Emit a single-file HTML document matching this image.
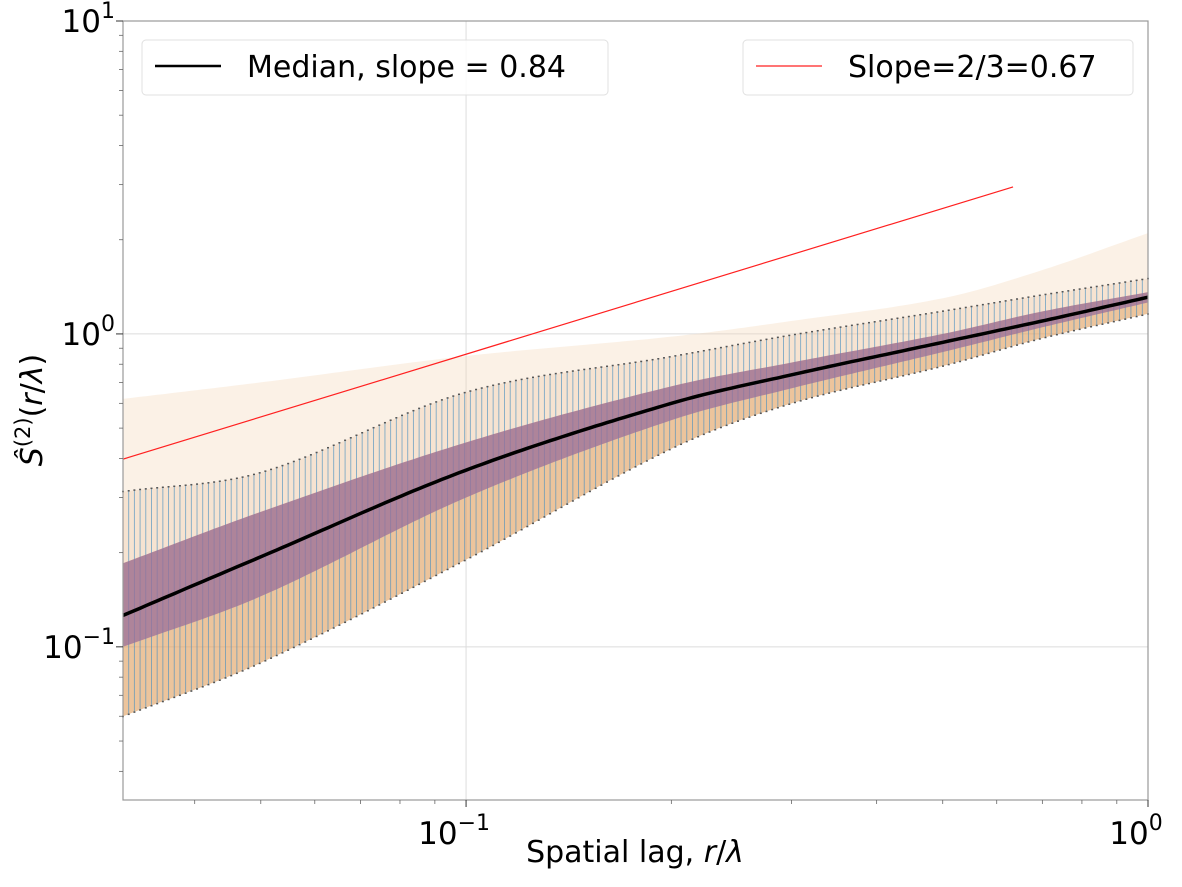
<!DOCTYPE html>
<html><head><meta charset="utf-8"><style>
html,body{margin:0;padding:0;background:#fff;}
body{position:relative;width:1182px;height:887px;overflow:hidden}
svg{display:block;font-family:"DejaVu Sans","Liberation Sans",sans-serif;}
</style></head><body>
<svg id="chart" width="1182" height="887" viewBox="0 0 1182 887">
<g id="plot"></g>
<g id="axes"></g>
</svg>
<script>
// ---- data ----
const sampleX = [0.0314, 0.05, 0.1, 0.2, 0.3, 0.5, 0.7, 1.0];
const medianY = [0.126, 0.194, 0.367, 0.60, 0.74, 0.94, 1.10, 1.31];
const upperY  = [0.313, 0.36, 0.65, 0.845, 0.99, 1.18, 1.33, 1.50];
const lowerY  = [0.060, 0.089, 0.19, 0.43, 0.60, 0.79, 0.97, 1.16];
const q3Y     = [0.185, 0.27, 0.45, 0.68, 0.81, 1.00, 1.18, 1.36];
const q1Y     = [0.100, 0.145, 0.30, 0.53, 0.67, 0.875, 1.05, 1.26];
const outerTopY = [0.62, 0.70, 0.85, 0.98, 1.1, 1.3, 1.6, 2.1];
const refLineX = [0.0314, 0.634];
const refLineY = [0.398, 2.95];
const xTicks = [0.1, 1];
const xTickLabels = ["10", "10"];
const xTickExp = ["\u22121", "0"];
const yTicks = [0.1, 1, 10];
const yTickLabels = ["10", "10", "10"];
const yTickExp = ["\u22121", "0", "1"];

// ---- scales ----
const L=123,R=1148,T=21,B=800;
const xMin=Math.log10(0.0314), xMax=0;
const yMin=Math.log10(0.0324), yMax=1;
const sx=v=>L+(Math.log10(v)-xMin)/(xMax-xMin)*(R-L);
const sy=v=>B-(Math.log10(v)-yMin)/(yMax-yMin)*(B-T);
const NS="http://www.w3.org/2000/svg";
const plot=document.getElementById('plot'), axes=document.getElementById('axes');
function mk(tag,attrs,parent){const e=document.createElementNS(NS,tag);for(const k in attrs)e.setAttribute(k,attrs[k]);parent.appendChild(e);return e;}
// smooth (cubic Hermite) interpolation in log-log space
function interp(arr,x){
 const xs=sampleX.map(Math.log10), ys=arr.map(Math.log10), n=xs.length, lx=Math.log10(x);
 const m=xs.map((_,i)=>{if(i==0)return (ys[1]-ys[0])/(xs[1]-xs[0]);if(i==n-1)return (ys[n-1]-ys[n-2])/(xs[n-1]-xs[n-2]);return (ys[i+1]-ys[i-1])/(xs[i+1]-xs[i-1]);});
 let i=0;while(i<n-2&&lx>xs[i+1])i++;
 const h=xs[i+1]-xs[i], t=Math.max(0,Math.min(1,(lx-xs[i])/h));
 const t2=t*t,t3=t2*t;
 const v=(2*t3-3*t2+1)*ys[i]+(t3-2*t2+t)*h*m[i]+(-2*t3+3*t2)*ys[i+1]+(t3-t2)*h*m[i+1];
 return Math.pow(10,v);
}
const dense=[];for(let i=0;i<=180;i++){dense.push(Math.pow(10,xMin+(xMax-xMin)*i/180));}
function line(arr){return dense.map((x,i)=>(i?'L':'M')+sx(x).toFixed(1)+','+sy(interp(arr,x)).toFixed(1)).join('');}
function band(a,b){return line(a)+dense.slice().reverse().map(x=>'L'+sx(x).toFixed(1)+','+sy(interp(b,x)).toFixed(1)).join('')+'Z';}

// grid
xTicks.forEach(t=>{const g=mk('line',{x1:sx(t),x2:sx(t),y1:T,y2:B,stroke:'#dcdcdc','stroke-width':1},plot);});
yTicks.slice(0,2).forEach(t=>{const g=mk('line',{x1:L,x2:R,y1:sy(t),y2:sy(t),stroke:'#dcdcdc','stroke-width':1},plot);});

// faint outer orange band
let e=mk('path',{d:band(outerTopY,upperY),fill:'#f3d6b8','fill-opacity':0.35},plot);

// orange band between envelopes
e=mk('path',{d:band(upperY,lowerY),fill:'#ecc29a','fill-opacity':0.45},plot);

e=mk('path',{d:band(q3Y,lowerY),fill:'#d98a3a','fill-opacity':0.35},plot);

// error bars
const eg=mk('g',{},plot);
dense.forEach(x=>{const X=sx(x);
 mk('line',{x1:X,x2:X,y1:sy(interp(upperY,x)),y2:sy(interp(lowerY,x)),stroke:'#4a90c0','stroke-width':0.9,'stroke-opacity':0.7},eg);
 mk('rect',{x:X-1,y:sy(interp(upperY,x))-1,width:2,height:1.5,fill:'#555'},eg);
 mk('rect',{x:X-1,y:sy(interp(lowerY,x))-0.5,width:2,height:1.5,fill:'#555'},eg);
});
// interquartile band
e=mk('path',{d:band(q3Y,q1Y),fill:'#9a6f9a','fill-opacity':0.75},plot);

// median
e=mk('path',{d:line(medianY),fill:'none',stroke:'#000','stroke-width':3.5},plot);

// reference slope line
e=mk('line',{x1:sx(refLineX[0]),y1:sy(refLineY[0]),x2:sx(refLineX[1]),y2:sy(refLineY[1]),stroke:'#ff2020','stroke-width':1.2},plot);


// frame
e=mk('rect',{x:L,y:T,width:R-L,height:B-T,fill:'none',stroke:'#999','stroke-width':1.2},axes);

// minor ticks
for(let d=-2;d<=0;d++)for(let m=2;m<=9;m++){const v=m*Math.pow(10,d);if(v>=0.0314&&v<=1){mk('line',{x1:sx(v),x2:sx(v),y1:B,y2:B+4,stroke:'#666','stroke-width':0.8},axes);}}
for(let d=-2;d<=0;d++)for(let m=2;m<=9;m++){const v=m*Math.pow(10,d);if(v>=0.0324&&v<=10){mk('line',{x1:L-4,x2:L,y1:sy(v),y2:sy(v),stroke:'#666','stroke-width':0.8},axes);}}
// tick labels
xTicks.forEach((t,i)=>{mk('line',{x1:sx(t),x2:sx(t),y1:B,y2:B+7,stroke:'#333'},axes);
 const tx=mk('text',{x:sx(t)-12,y:B+44,'font-size':31,'text-anchor':'middle',fill:'#000'},axes);
 
 tx.textContent=xTickLabels[i];const s=mk('tspan',{dy:-14,'font-size':22},tx);s.textContent=xTickExp[i];});
yTicks.forEach((t,i)=>{mk('line',{x1:L-7,x2:L,y1:sy(t),y2:sy(t),stroke:'#333'},axes);
 const tx=mk('text',{x:L-8,y:sy(t)+11,'font-size':31,'text-anchor':'end',fill:'#000'},axes);
 
 const a=mk('tspan',{},tx);a.textContent=yTickLabels[i];const s=mk('tspan',{dy:-14,'font-size':22},tx);s.textContent=yTickExp[i];});
</script>
<svg width="1182" height="887" style="position:absolute;left:0;top:0" font-family="DejaVu Sans, Liberation Sans, sans-serif">
<text x="635" y="862" font-size="30" text-anchor="middle">Spatial lag, <tspan font-style="italic">r</tspan>/<tspan font-style="italic">λ</tspan></text>
<text transform="translate(42,410) rotate(-90)" font-size="30" text-anchor="middle"><tspan font-style="italic">Ŝ</tspan><tspan dy="-12" font-size="21">(2)</tspan><tspan dy="12">(</tspan><tspan font-style="italic">r</tspan>/<tspan font-style="italic">λ</tspan>)</text>
<g>
<rect x="142" y="40" width="466" height="55" rx="4" fill="#fff" fill-opacity="0.85" stroke="#e0e0e0"/>
<line x1="155" y1="66" x2="221" y2="66" stroke="#000" stroke-width="2.5"/>
<text x="247" y="77" font-size="30">Median, slope = 0.84</text>
</g>
<g>
<rect x="743" y="40" width="390" height="55" rx="4" fill="#fff" fill-opacity="0.85" stroke="#e0e0e0"/>
<line x1="756" y1="66" x2="822" y2="66" stroke="#ff2020" stroke-width="1.2"/>
<text x="848" y="77" font-size="30">Slope=2/3=0.67</text>
</g>
</svg>
</body></html>
